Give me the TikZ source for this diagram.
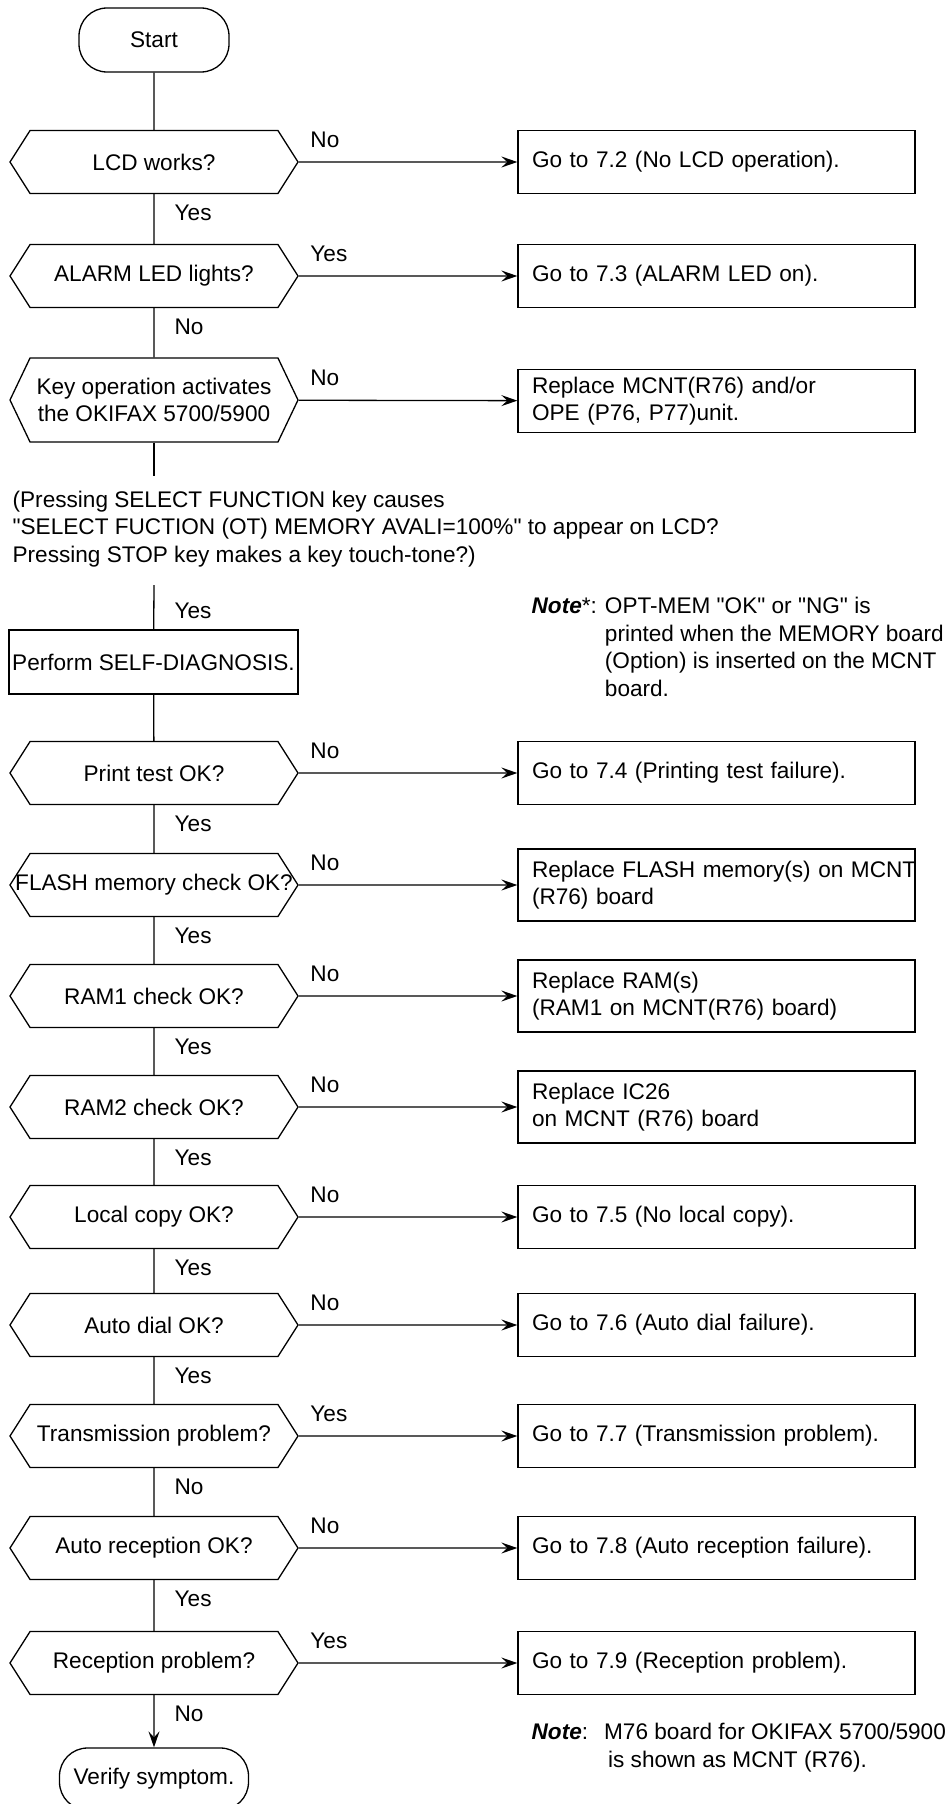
\documentclass[tikz,border=0pt]{standalone}
\usepackage{fontspec}
\setmainfont{Liberation Sans}[Ligatures=TeXOff]
\usetikzlibrary{shapes.symbols,arrows.meta}

\begin{document}
\begin{tikzpicture}[x=0.5pt,y=-0.5pt,line width=0.65pt,
  font=\fontsize{11.3}{13.75}\selectfont,
  term/.style={draw,rounded corners=14pt,minimum width=75pt,minimum height=32pt},
  test/.style={draw,shape=signal,signal to=west and east,signal pointer angle=115,
    minimum width=144pt,minimum height=31.5pt,inner sep=1pt,align=center},
  act/.style={draw,rectangle,text width=184.5pt,inner xsep=7pt,minimum height=31.5pt,align=left},
  side/.style={pos=0,anchor=base west,inner sep=0pt,xshift=5.5pt,yshift=7.5pt},
  down/.style={pos=0,anchor=base west,inner sep=0pt,xshift=10pt,yshift=-13pt},
  flow/.style={-{Stealth[length=8pt,width=5.5pt,inset=3pt]}}]
\useasboundingbox (0,0) rectangle (951,1804);

\node[term] (start) at (154,40) {Start};
\node[test] (lcd) at (154,162) {LCD works?};
\node[act] (golcd) at (716.5,162) {Go to 7.2 (No LCD operation).};
\node[test] (alarm) at (154,276) {ALARM LED lights?};
\node[act] (goalarm) at (716.5,276) {Go to 7.3 (ALARM LED on).};
\node[test,minimum height=42pt,signal pointer angle=129] (keyop) at (154,400)
  {Key operation activates\\the OKIFAX 5700/5900};
\node[act] (repope) at (716.5,401) {Replace MCNT(R76) and/or\\OPE (P76, P77)unit.};
\coordinate (keyend) at (154,476);

\node[anchor=north west,align=left,inner sep=0pt] (cond) at (12,490)
  {(Pressing SELECT FUNCTION key causes\\
   "SELECT FUCTION (OT) MEMORY AVALI=100\%" to appear on LCD?\\
   Pressing STOP key makes a key touch-tone?)};

\coordinate (yesstart) at (154,585);
\node[draw,minimum width=144.5pt,minimum height=32pt,inner sep=1pt] (selfdiag) at (153.5,662)
  {Perform SELF-DIAGNOSIS.};
\node[anchor=north west,inner sep=0pt] (notemem) at (531,594)
  {\begin{tabular}{@{}l@{\hspace{4pt}}l@{}}
   \textbf{\textit{Note}}*: & OPT-MEM "OK" or "NG" is\\
   & printed when the MEMORY board\\
   & (Option) is inserted on the MCNT\\
   & board.
   \end{tabular}};

\node[test] (print) at (154,773) {Print test OK?};
\node[act] (goprint) at (716.5,773) {Go to 7.4 (Printing test failure).};
\node[test,inner xsep=-7.5pt] (flash) at (154,885) {FLASH memory check OK?};
\node[act,minimum height=36pt] (repflash) at (716.5,885)
  {\mbox{Replace FLASH memory(s) on MCNT}\\(R76) board};
\node[test] (ramone) at (154,996) {RAM1 check OK?};
\node[act,minimum height=36pt] (repramone) at (716.5,996) {Replace RAM(s)\\(RAM1 on MCNT(R76) board)};
\node[test] (ramtwo) at (154,1107) {RAM2 check OK?};
\node[act,minimum height=36pt] (repic) at (716.5,1107) {Replace IC26\\on MCNT (R76) board};
\node[test] (copy) at (154,1217) {Local copy OK?};
\node[act] (gocopy) at (716.5,1217) {Go to 7.5 (No local copy).};
\node[test] (dial) at (154,1325) {Auto dial OK?};
\node[act] (godial) at (716.5,1325) {Go to 7.6 (Auto dial failure).};
\node[test] (trans) at (154,1436) {Transmission problem?};
\node[act] (gotrans) at (716.5,1436) {Go to 7.7 (Transmission problem).};
\node[test] (autorx) at (154,1548) {Auto reception OK?};
\node[act] (goautorx) at (716.5,1548) {Go to 7.8 (Auto reception failure).};
\node[test] (rx) at (154,1663) {Reception problem?};
\node[act] (gorx) at (716.5,1663) {Go to 7.9 (Reception problem).};
\node[term,minimum width=94.5pt,minimum height=31pt] (verify) at (154,1779) {Verify symptom.};

\node[anchor=north west,inner sep=0pt] (noteboard) at (531,1720)
  {\begin{tabular}{@{}l@{\hspace{8pt}}l@{}}
   \textbf{\textit{Note}}: & M76 board for OKIFAX 5700/5900\\
   & \hspace{2pt}is shown as MCNT (R76).
   \end{tabular}};

% main line
\draw (start) -- (lcd);
\draw (lcd) -- node[down] {Yes} (alarm);
\draw (alarm) -- node[down] {No} (keyop);
\draw (keyop) -- (keyend);
\draw (yesstart) -- node[pos=0,anchor=base west,inner sep=0pt,xshift=10pt,yshift=-16.5pt] {Yes} (selfdiag);
\draw (selfdiag) -- (print);
\draw (print) -- node[down] {Yes} (flash);
\draw (flash) -- node[down] {Yes} (ramone);
\draw (ramone) -- node[down] {Yes} (ramtwo);
\draw (ramtwo) -- node[down] {Yes} (copy);
\draw (copy) -- node[down] {Yes} (dial);
\draw (dial) -- node[down] {Yes} (trans);
\draw (trans) -- node[down] {No} (autorx);
\draw (autorx) -- node[down] {Yes} (rx);
\draw[flow] (rx) -- node[down] {No} (verify);

% branches
\draw[flow] (lcd) -- node[side] {No} (golcd);
\draw[flow] (alarm) -- node[side] {Yes} (goalarm);
\draw[flow] (keyop) -- node[side] {No} (repope);
\draw[flow] (print) -- node[side] {No} (goprint);
\draw[flow] (flash) -- node[side] {No} (repflash);
\draw[flow] (ramone) -- node[side] {No} (repramone);
\draw[flow] (ramtwo) -- node[side] {No} (repic);
\draw[flow] (copy) -- node[side] {No} (gocopy);
\draw[flow] (dial) -- node[side] {No} (godial);
\draw[flow] (trans) -- node[side] {Yes} (gotrans);
\draw[flow] (autorx) -- node[side] {No} (goautorx);
\draw[flow] (rx) -- node[side] {Yes} (gorx);
\end{tikzpicture}
\end{document}
